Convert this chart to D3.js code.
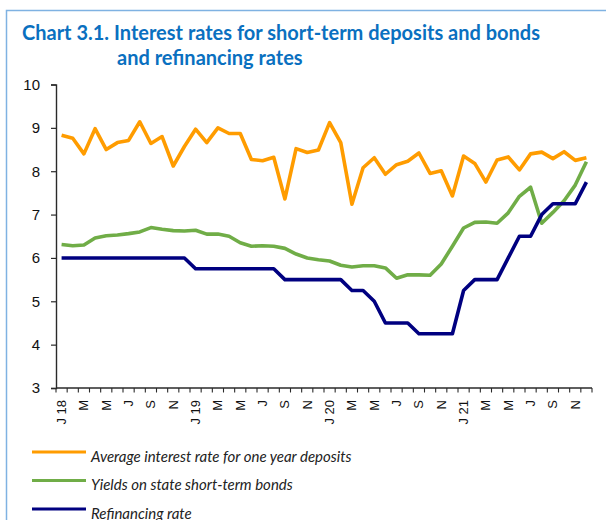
<!DOCTYPE html>
<html>
<head>
<meta charset="utf-8">
<script src="https://cdn.jsdelivr.net/npm/d3@7/dist/d3.min.js"></script>
<style>
  html, body { margin: 0; padding: 0; background: #fff; }
  svg { display: block; }
</style>
</head>
<body>
<svg id="chart" width="606" height="520"></svg>
<script>
// Months on the category axis, January 2018 – December 2021
const months = [
  "Jan 18","Feb 18","Mar 18","Apr 18","May 18","Jun 18","Jul 18","Aug 18","Sep 18","Oct 18","Nov 18","Dec 18",
  "Jan 19","Feb 19","Mar 19","Apr 19","May 19","Jun 19","Jul 19","Aug 19","Sep 19","Oct 19","Nov 19","Dec 19",
  "Jan 20","Feb 20","Mar 20","Apr 20","May 20","Jun 20","Jul 20","Aug 20","Sep 20","Oct 20","Nov 20","Dec 20",
  "Jan 21","Feb 21","Mar 21","Apr 21","May 21","Jun 21","Jul 21","Aug 21","Sep 21","Oct 21","Nov 21","Dec 21"
];

// Axis labels shown under every other month
const monthLabels = [
  "J 18","","M","","M","","J","","S","","N","",
  "J 19","","M","","M","","J","","S","","N","",
  "J 20","","M","","M","","J","","S","","N","",
  "J 21","","M","","M","","J","","S","","N",""
];

const yTicks = [3, 4, 5, 6, 7, 8, 9, 10];

// Average interest rate for one year deposits (%)
const deposits = [
  8.83, 8.76, 8.40, 8.98, 8.50, 8.66, 8.71, 9.14, 8.64, 8.80, 8.12, 8.57,
  8.97, 8.66, 9.00, 8.87, 8.87, 8.27, 8.24, 8.32, 7.36, 8.52, 8.43, 8.49,
  9.12, 8.66, 7.24, 8.08, 8.31, 7.93, 8.15, 8.23, 8.42, 7.95, 8.01, 7.43,
  8.35, 8.18, 7.75, 8.26, 8.33, 8.03, 8.40, 8.44, 8.29, 8.45, 8.25, 8.31
];

// Yields on state short-term bonds (%)
const bonds = [
  6.31, 6.28, 6.30, 6.46, 6.51, 6.53, 6.56, 6.60, 6.70, 6.66, 6.63, 6.62,
  6.64, 6.55, 6.55, 6.50, 6.35, 6.27, 6.28, 6.27, 6.22, 6.09, 6.00, 5.96,
  5.93, 5.83, 5.79, 5.82, 5.82, 5.77, 5.53, 5.61, 5.61, 5.60, 5.86, 6.27,
  6.69, 6.82, 6.83, 6.80, 7.04, 7.42, 7.63, 6.80, 7.05, 7.32, 7.68, 8.22
];

// Refinancing rate (%)
const refinancing = [
  6.00, 6.00, 6.00, 6.00, 6.00, 6.00, 6.00, 6.00, 6.00, 6.00, 6.00, 6.00,
  5.75, 5.75, 5.75, 5.75, 5.75, 5.75, 5.75, 5.75, 5.50, 5.50, 5.50, 5.50,
  5.50, 5.50, 5.25, 5.25, 5.00, 4.50, 4.50, 4.50, 4.25, 4.25, 4.25, 4.25,
  5.25, 5.50, 5.50, 5.50, 6.00, 6.50, 6.50, 7.00, 7.25, 7.25, 7.25, 7.75
];

const seriesNames = [
  "Average interest rate for one year deposits",
  "Yields on state short-term bonds",
  "Refinancing rate"
];
const seriesColors = ["#FF9C00", "#70AD47", "#000080"];
const seriesValues = [deposits, bonds, refinancing];

const svg = d3.select("#chart");

// Frame of the chart panel (top and left edges)
svg.append("path")
  .attr("d", "M6.5,520 V10.5 H606")
  .attr("fill", "none")
  .attr("stroke", "#7FB2E2")
  .attr("stroke-width", 1.5);

// Title
const titleFont = "Lato, 'Open Sans', sans-serif";
svg.append("text")
  .attr("x", 22).attr("y", 40)
  .attr("font-family", titleFont).attr("font-weight", 700)
  .attr("font-size", 20).attr("fill", "#0A70C0")
  .text("Chart 3.1. Interest rates for short-term deposits and bonds");
svg.append("text")
  .attr("x", 117).attr("y", 65)
  .attr("font-family", titleFont).attr("font-weight", 700)
  .attr("font-size", 20).attr("fill", "#0A70C0")
  .text("and refinancing rates");

// Plot area
const plotLeft = 56, plotRight = 592, plotTop = 84.5, plotBottom = 388;

const x = d3.scaleBand().domain(months).range([plotLeft, plotRight]).paddingInner(0).paddingOuter(0);
const y = d3.scaleLinear().domain([3, 10]).range([plotBottom, plotTop]);

const axisColor = "#2a2a2a";

// Y axis
const yAxis = d3.axisLeft(y).tickValues(yTicks).tickSize(5).tickPadding(11).tickFormat(d3.format("d"));
const gy = svg.append("g").attr("transform", `translate(${plotLeft},0)`).call(yAxis);
gy.select(".domain").attr("stroke", axisColor).attr("stroke-width", 1.4);
gy.selectAll(".tick line").attr("stroke", axisColor).attr("stroke-width", 1.2);
gy.selectAll(".tick text")
  .attr("font-family", "'Liberation Sans', Arial, sans-serif")
  .attr("font-size", 15).attr("fill", "#111");

// X axis: tick marks between months, labels centred on months
const boundaries = months.map(m => x(m)).concat([plotRight]);
const gx = svg.append("g");
gx.append("line")
  .attr("x1", plotLeft).attr("x2", plotRight).attr("y1", plotBottom).attr("y2", plotBottom)
  .attr("stroke", axisColor).attr("stroke-width", 1.4);
gx.selectAll("line.tick")
  .data(boundaries)
  .join("line")
  .attr("class", "tick")
  .attr("x1", d => d).attr("x2", d => d)
  .attr("y1", plotBottom).attr("y2", plotBottom + 4.5)
  .attr("stroke", axisColor).attr("stroke-width", 1.1);
gx.selectAll("text")
  .data(months.map((m, i) => ({ m, label: monthLabels[i] })).filter(d => d.label))
  .join("text")
  .attr("transform", d => `translate(${x(d.m) + x.bandwidth() / 2},${plotBottom + 12}) rotate(-90)`)
  .attr("dy", "0.35em")
  .attr("text-anchor", "end")
  .attr("font-family", "'Liberation Sans', Arial, sans-serif")
  .attr("font-size", 13).attr("fill", "#111")
  .text(d => d.label);

// Lines
const line = d3.line()
  .x((d, i) => x(months[i]) + x.bandwidth() / 2)
  .y(d => y(d));

seriesValues.forEach((vals, k) => {
  svg.append("path")
    .datum(vals)
    .attr("d", line)
    .attr("fill", "none")
    .attr("stroke", seriesColors[k])
    .attr("stroke-width", 3.6)
    .attr("stroke-linejoin", "round")
    .attr("stroke-linecap", "butt");
});

// Legend
const legendRows = [452, 480.5, 509];
seriesNames.forEach((name, k) => {
  const g = svg.append("g").attr("transform", `translate(0,${legendRows[k]})`);
  g.append("line")
    .attr("x1", 32).attr("x2", 86).attr("y1", 0).attr("y2", 0)
    .attr("stroke", seriesColors[k]).attr("stroke-width", 3.2);
  g.append("text")
    .attr("x", 91).attr("y", 9.5)
    .attr("font-family", "Lato, 'Open Sans', sans-serif")
    .attr("font-style", "italic")
    .attr("font-size", 15).attr("fill", "#222")
    .text(name);
});
</script>
</body>
</html>
